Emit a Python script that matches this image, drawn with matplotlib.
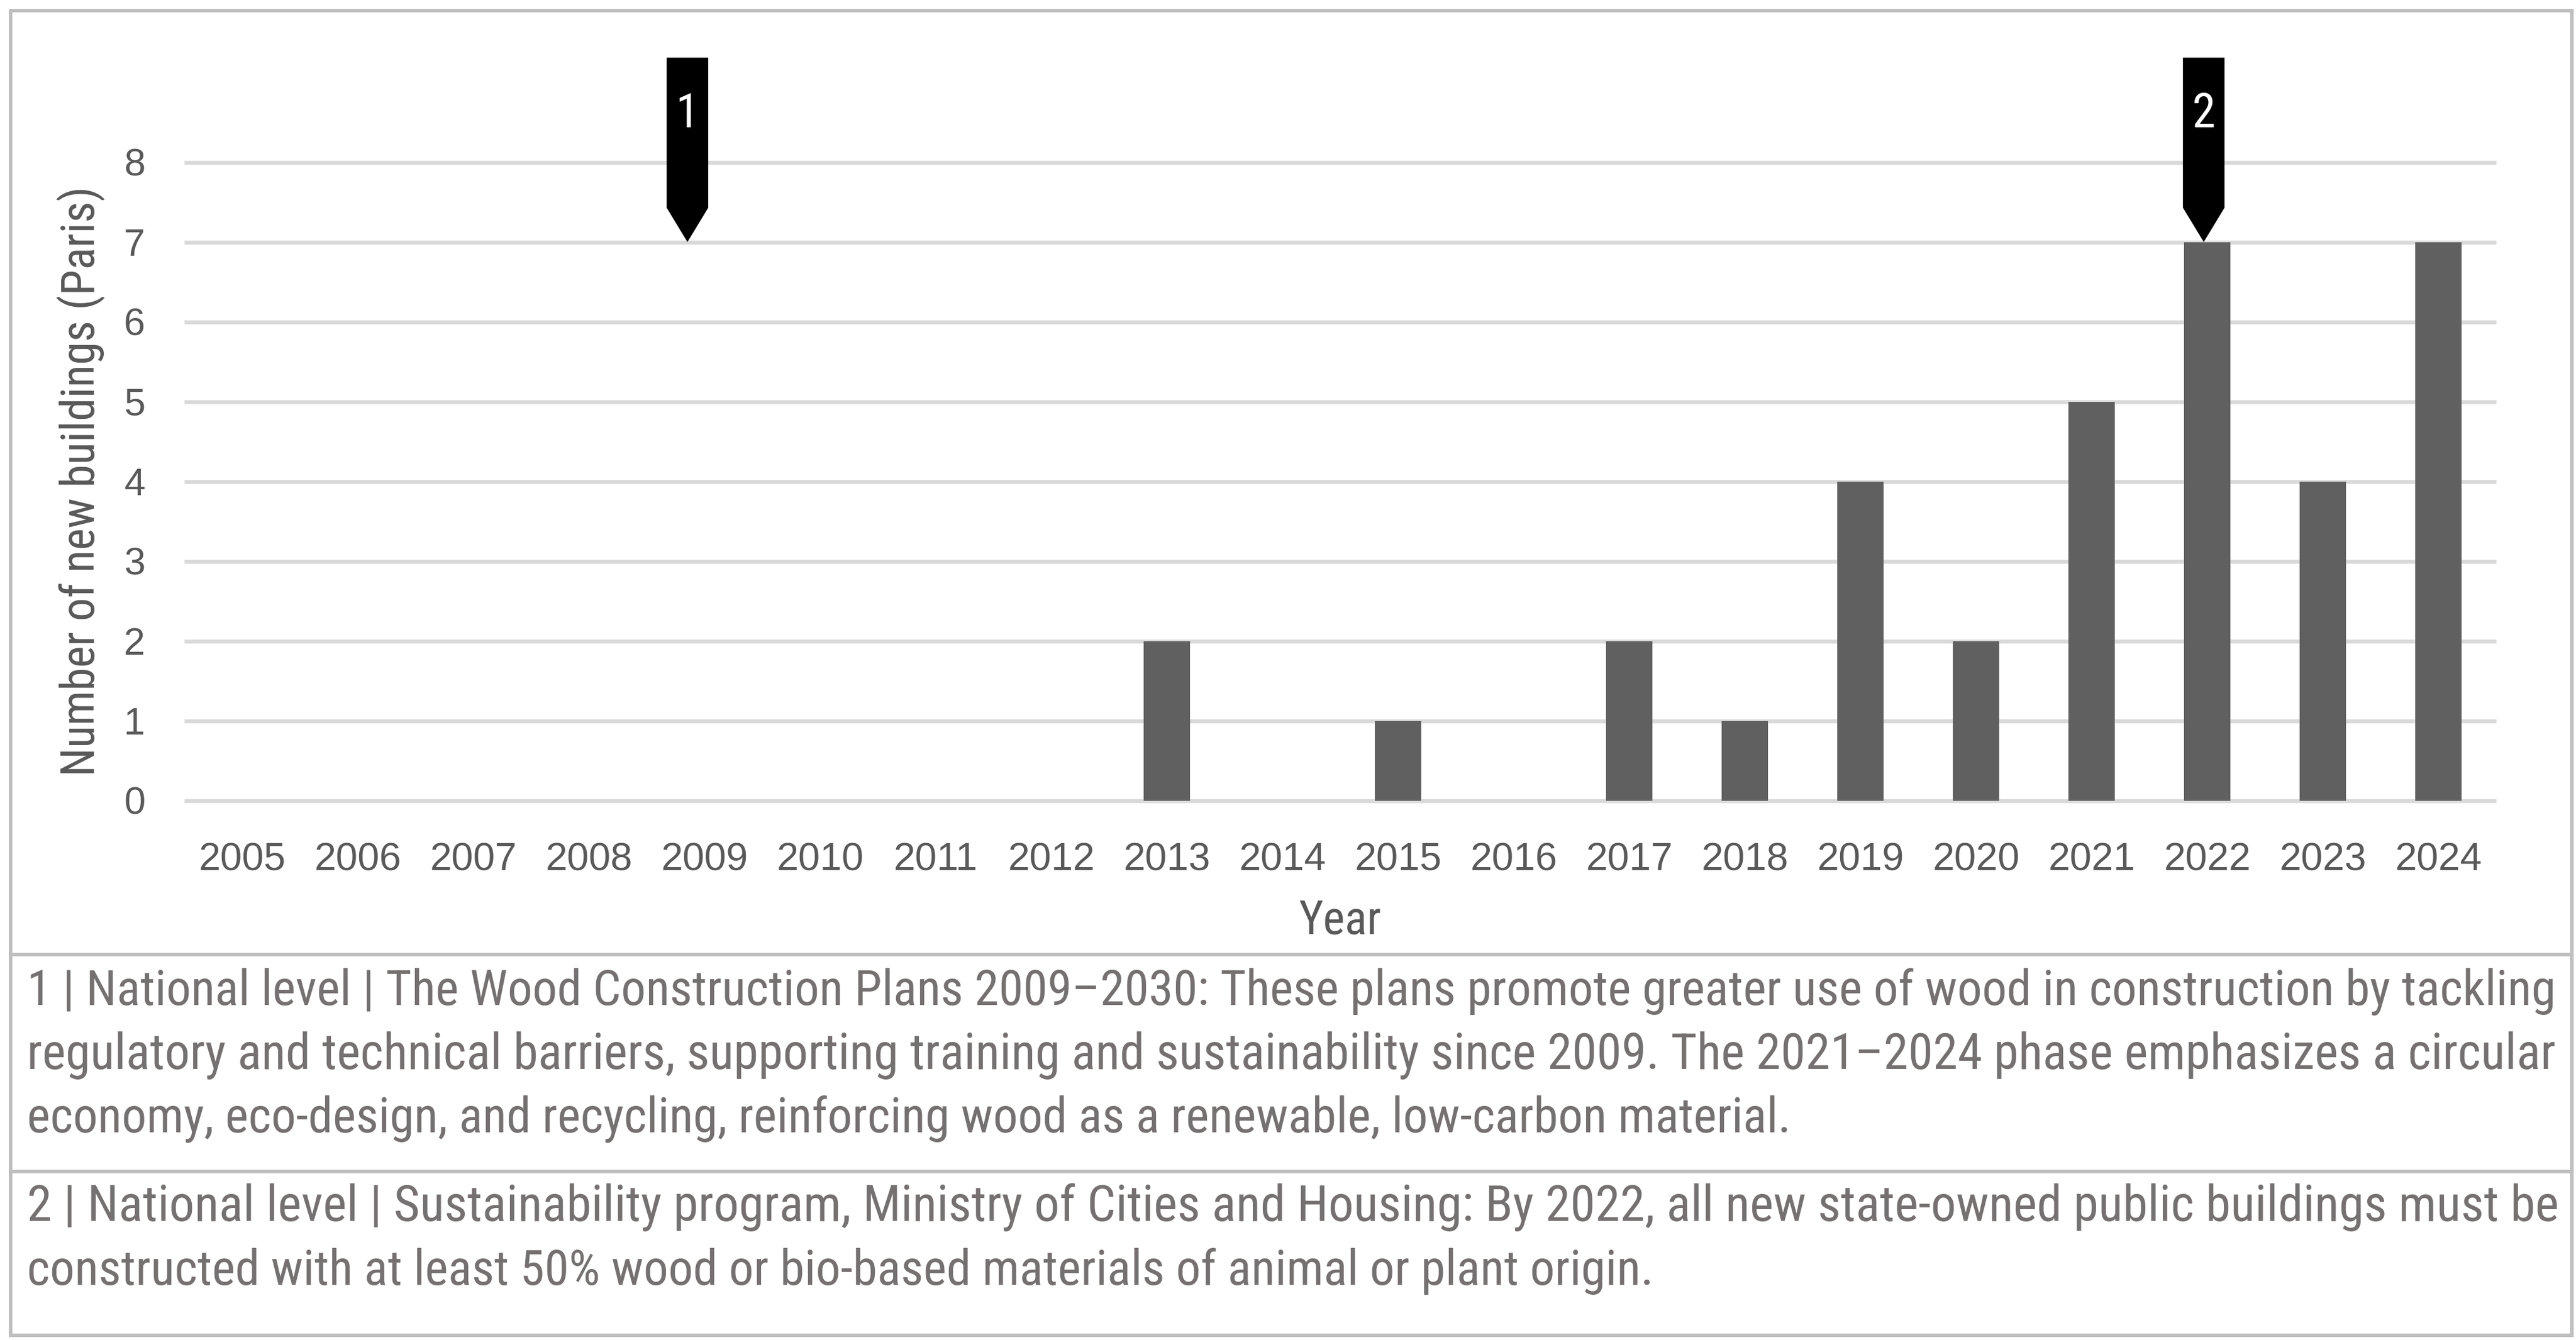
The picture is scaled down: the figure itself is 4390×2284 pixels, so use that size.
import matplotlib
matplotlib.use("Agg")
import matplotlib.pyplot as plt
from matplotlib import font_manager as fm
from matplotlib.patches import Polygon, Rectangle
from matplotlib.lines import Line2D

# ---------------- data ----------------
years = [2005, 2006, 2007, 2008, 2009, 2010, 2011, 2012, 2013, 2014,
         2015, 2016, 2017, 2018, 2019, 2020, 2021, 2022, 2023, 2024]
new_buildings = [0, 0, 0, 0, 0, 0, 0, 0, 2, 0,
                 1, 0, 2, 1, 4, 2, 5, 7, 4, 7]
y_ticks = [0, 1, 2, 3, 4, 5, 6, 7, 8]
marker_years = [2009, 2022]
marker_labels = ["1", "2"]
marker_tip_values = [7, 7]
x_label = "Year"
y_label = "Number of new buildings (Paris)"
note1_lines = [
    "1 | National level | The Wood Construction Plans 2009\u20132030: These plans promote greater use of wood in construction by tackling",
    "regulatory and technical barriers, supporting training and sustainability since 2009. The 2021\u20132024 phase emphasizes a circular",
    "economy, eco-design, and recycling, reinforcing wood as a renewable, low-carbon material.",
]
note2_lines = [
    "2 | National level | Sustainability program, Ministry of Cities and Housing: By 2022, all new state-owned public buildings must be",
    "constructed with at least 50% wood or bio-based materials of animal or plant origin.",
]

# ---------------- fonts ----------------
def pick(cands, default="DejaVu Sans"):
    for c in cands:
        try:
            fm.findfont(fm.FontProperties(family=c), fallback_to_default=False)
            return c
        except Exception:
            continue
    return default

narrow = pick(["Liberation Sans Narrow", "Roboto Condensed", "Open Sans Condensed",
               "Arial Narrow", "Roboto", "Liberation Sans"])
regular = pick(["Liberation Sans", "Arial", "DejaVu Sans"])

# ---------------- figure ----------------
W, H = 4390, 2284
DPI = 100
fig = plt.figure(figsize=(W / DPI, H / DPI), dpi=DPI)
fig.patch.set_facecolor("white")

def fx(px):
    return px / W

def fy(py):
    return 1 - py / H

ax_left, ax_right, ax_top, ax_bot = 314, 4254, 276.5, 1364.5
ax = fig.add_axes([fx(ax_left), fy(ax_bot), fx(ax_right) - fx(ax_left), fy(ax_top) - fy(ax_bot)])

idx = list(range(len(years)))
ax.set_xlim(-0.5, len(years) - 0.5)
ax.set_ylim(0, 8)

grid_col = "#d9d9d9"
ax.hlines(y_ticks, -0.5, len(years) - 0.5, colors=grid_col, linewidth=4.8,
          zorder=0, clip_on=False)
ax.bar(idx, new_buildings, width=0.405, color="#606060", zorder=2)

for s in ax.spines.values():
    s.set_visible(False)

tick_col = "#595959"
ax.set_xticks(idx)
ax.set_xticklabels([str(y) for y in years], fontsize=48, color=tick_col, family=regular)
ax.set_yticks(y_ticks)
ax.set_yticklabels([str(v) for v in y_ticks], fontsize=47, color=tick_col, family=regular)
ax.tick_params(axis="x", length=0, pad=51)
ax.tick_params(axis="y", length=0, pad=48)

ax.set_xlabel(x_label, fontsize=57, color=tick_col, family=narrow, va="baseline")
ax.xaxis.set_label_coords(0.5, (ax_bot - 1592) / (ax_bot - ax_top))
ax.set_ylabel(y_label, fontsize=57, color=tick_col, family=narrow, va="center")
ax.yaxis.set_label_coords((138 - ax_left) / (ax_right - ax_left), 0.5)

# callout markers
hw = 0.18
for i, (yr, lab, tip) in enumerate(zip(marker_years, marker_labels, marker_tip_values)):
    c = years.index(yr) + (-0.03 if i else -0.147)
    top = tip + 2.31
    shaft = tip + 0.43
    poly = Polygon([(c - hw, top), (c + hw, top), (c + hw, shaft), (c, tip), (c - hw, shaft)],
                   closed=True, facecolor="black", edgecolor="black", linewidth=0,
                   zorder=5, clip_on=False)
    ax.add_patch(poly)
    ax.text(c, tip + 1.44, lab, color="white", fontsize=58, family=narrow,
            ha="center", va="baseline", zorder=6, clip_on=False)

# ---------------- frame & notes ----------------
border_col = "#bfbfbf"
blw = 4.3
fig.patches.append(Rectangle((fx(18), fy(2276)), fx(4383) - fx(18), fy(18) - fy(2276),
                             transform=fig.transFigure, fill=False,
                             edgecolor=border_col, linewidth=blw, zorder=10))
for py in (1627, 1997):
    fig.lines.append(Line2D([fx(18), fx(4383)], [fy(py), fy(py)], transform=fig.transFigure,
                            color=border_col, linewidth=blw, zorder=10))

note_col = "#767171"
note_fs = 52
notes = [(note1_lines, [1713, 1822, 1930]), (note2_lines, [2081, 2190])]
groups = []
for lines, bases in notes:
    g = []
    for line, b in zip(lines, bases):
        g.append(fig.text(fx(46), fy(b), line, fontsize=note_fs, color=note_col,
                          family=narrow, ha="left", va="baseline"))
    groups.append(g)

# fit: full lines span the box width (justified in reference); last lines use base size
fig.canvas.draw()
r = fig.canvas.get_renderer()
target = 4362 - 46
base_scale = target / groups[0][0].get_window_extent(r).width
for g in groups:
    for k, t in enumerate(g):
        if k < len(g) - 1:
            t.set_fontsize(note_fs * target / t.get_window_extent(r).width)
        else:
            t.set_fontsize(note_fs * base_scale)

fig.savefig("out.png", dpi=DPI, facecolor="white")
